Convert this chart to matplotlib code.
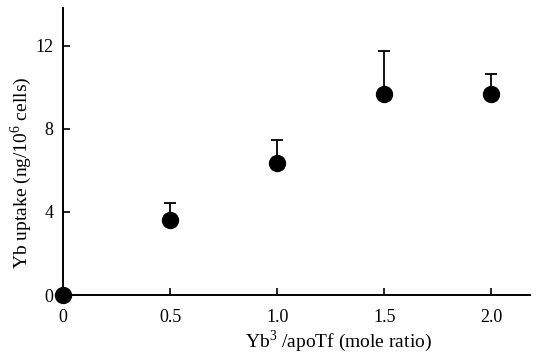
import matplotlib.pyplot as plt

ratio = [0, 0.5, 1.0, 1.5, 2.0]
uptake = [0, 3.6, 6.35, 9.67, 9.67]
err_up = [0, 0.85, 1.12, 2.09, 0.97]

plt.rcParams['font.family'] = ['Liberation Serif', 'DejaVu Serif']
plt.rcParams['mathtext.fontset'] = 'custom'
plt.rcParams['mathtext.rm'] = 'Liberation Serif'

fig = plt.figure(figsize=(5.36, 3.61), dpi=100)
ax = fig.add_axes([63 / 536, 1 - 295 / 361, 467 / 536, 287 / 361])

ax.errorbar(ratio[1:], uptake[1:], yerr=[[0] * 4, err_up[1:]], fmt='none',
            ecolor='black', elinewidth=1.3, capsize=4.5, capthick=1.3)
ax.plot(ratio, uptake, 'o', color='black', markersize=11.5, clip_on=False, zorder=5)

ax.set_xlim(0, 2.18)
ax.set_ylim(0, 13.83)
ax.set_xticks([0, 0.5, 1.0, 1.5, 2.0])
ax.set_xticklabels(['0', '0.5', '1.0', '1.5', '2.0'])
ax.set_yticks([0, 4, 8, 12])

for s in ['top', 'right']:
    ax.spines[s].set_visible(False)
for s in ['left', 'bottom']:
    ax.spines[s].set_linewidth(1.4)

ax.tick_params(direction='in', length=5, width=1.2, labelsize=13)
ax.tick_params(axis='x', pad=10)
ax.tick_params(axis='y', pad=7)

fig.text(338 / 536, 1 - 341 / 361, 'Yb$^{3}$ /apoTf (mole ratio)',
         fontsize=14, ha='center', va='center')
fig.text(21 / 536, 1 - 173 / 361, 'Yb uptake (ng/10$^{6}$ cells)',
         fontsize=14, ha='center', va='center', rotation=90)

fig.savefig('out.png', dpi=100)
